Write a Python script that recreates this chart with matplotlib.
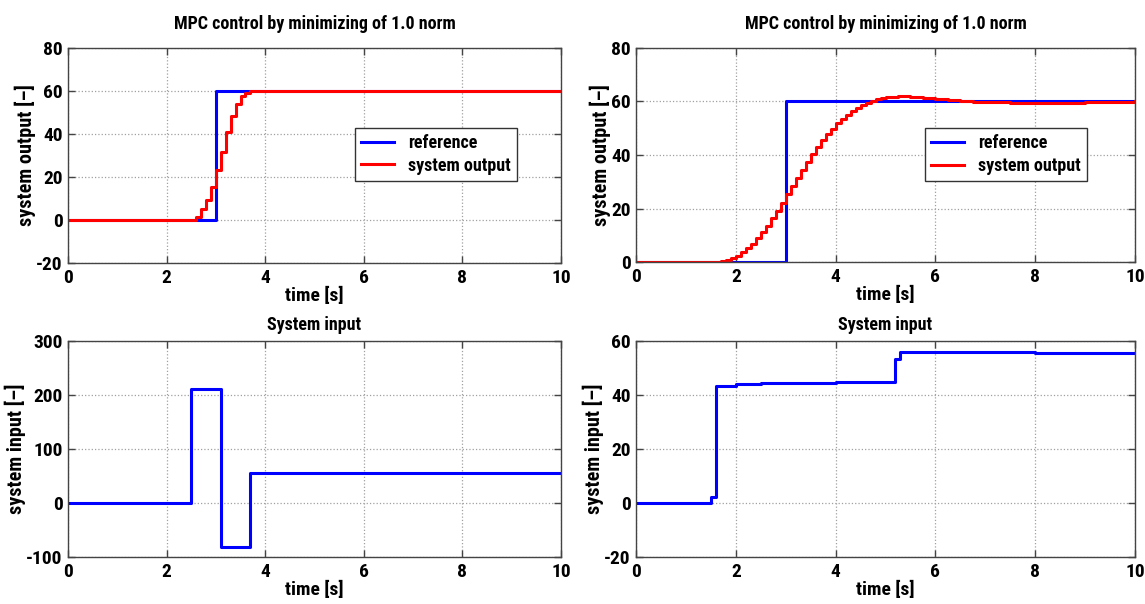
import matplotlib
matplotlib.use("Agg")
import matplotlib.pyplot as plt
from matplotlib import font_manager

# --- data -------------------------------------------------------------
# reference signal (step at t = 3 s)
ref_t = [0.0, 3.0, 10.0]
ref_y = [0.0, 60.0, 60.0]

# left case: output and input (sample time 0.1 s)
out1_t = [0.0, 2.6, 2.7, 2.8, 2.9, 3.0, 3.1, 3.2, 3.3, 3.4, 3.5, 3.6, 3.7, 10.0]
out1_y = [0.0, 1.5, 4.9, 9.2, 15.4, 23.4, 31.5, 40.8, 48.5, 53.8, 57.7, 59.2, 60.0, 60.0]
in1_t = [0.0, 2.5, 3.1, 3.7, 10.0]
in1_u = [0.0, 212.0, -81.0, 55.0, 55.0]

# right case: output and input
out2_t = [0.0, 1.7, 1.8, 1.9, 2.0, 2.1, 2.2, 2.3, 2.4, 2.5, 2.6, 2.7, 2.8, 2.9,
          3.0, 3.1, 3.2, 3.3, 3.4, 3.5, 3.6, 3.7, 3.8, 3.9, 4.0, 4.1, 4.2, 4.3,
          4.4, 4.5, 4.6, 4.7, 4.8, 4.9, 5.0, 5.25, 5.5, 5.75, 6.0, 6.25, 6.5,
          6.75, 7.0, 7.5, 8.0, 8.5, 9.0, 9.5, 10.0]
out2_y = [0.0, 0.2, 0.7, 1.4, 2.4, 3.6, 5.1, 6.9, 8.9, 11.1, 13.6, 16.3, 19.2, 22.2,
          25.3, 28.3, 31.3, 34.3, 37.3, 40.2, 43.0, 45.5, 47.8, 49.9, 51.8, 53.5, 55.0, 56.4,
          57.6, 58.6, 59.5, 60.3, 60.9, 61.4, 61.8, 62.0, 61.8, 61.4, 61.0, 60.6, 60.2,
          59.9, 59.7, 59.5, 59.5, 59.6, 59.8, 59.9, 60.0]
in2_t = [0.0, 1.5, 1.6, 1.7, 2.0, 2.5, 3.0, 4.0, 5.2, 5.3, 8.0, 10.0]
in2_u = [0.0, 2.4, 43.2, 43.5, 43.9, 44.3, 44.6, 44.7, 53.5, 56.0, 55.4, 55.4]

top_title = "MPC control by minimizing of 1.0 norm"
bottom_title = "System input"
xlab = "time [s]"
ylab_out = "system output [–]"
ylab_in = "system input [–]"
x_ticks = [0, 2, 4, 6, 8, 10]

# --- font: a narrow Helvetica-like face if one is available -----------------
installed = {(f.name, f.stretch) for f in font_manager.fontManager.ttflist}
names = {n for n, _ in installed}
stretch = "normal"
if "Liberation Sans Narrow" in names:
    family = ["Liberation Sans Narrow", "DejaVu Sans"]
elif "Roboto Condensed" in names:
    family = ["Roboto Condensed", "DejaVu Sans"]
elif any(n == "DejaVu Sans" and s == "condensed" for n, s in installed):
    family = ["DejaVu Sans"]
    stretch = "condensed"
else:
    family = ["Liberation Sans", "DejaVu Sans"]
plt.rcParams["font.family"] = family
plt.rcParams["font.stretch"] = stretch
plt.rcParams["axes.unicode_minus"] = False

W, H = 1145, 604
fig = plt.figure(figsize=(W / 100, H / 100), dpi=100)


def box(l, r, t, b):
    return [l / W, 1 - b / H, (r - l) / W, (b - t) / H]


BLUE = "#0000ff"
RED = "#ff0000"
FS = 13


def style(ax, yticks, ylim, ylabel):
    ax.set_xlim(0, 10)
    ax.set_ylim(*ylim)
    ax.set_xticks(x_ticks)
    ax.set_yticks(yticks)
    ax.grid(True, linestyle=":", color="#a0a0a0", linewidth=0.9)
    ax.tick_params(direction="in", length=5, width=1, top=True, right=True,
                   labelsize=14, pad=4, color="#444444")
    for lab in ax.get_xticklabels() + ax.get_yticklabels():
        lab.set_fontweight("bold")
    for s in ax.spines.values():
        s.set_color("#444444")
        s.set_linewidth(1.0)
    ax.set_xlabel(xlab, fontsize=14, fontweight="bold", labelpad=0)
    ax.set_ylabel(ylabel, fontsize=14.5, fontweight="bold", labelpad=0)


def legend(ax, x1, y1):
    lg = ax.legend(loc="upper right", bbox_to_anchor=(x1, y1), borderaxespad=0,
                   fancybox=False, framealpha=1, edgecolor="#333333",
                   prop={"size": FS, "weight": "bold"}, handlelength=1.8,
                   handletextpad=0.8, borderpad=0.35, labelspacing=0.25)
    lg.get_frame().set_linewidth(1.0)


ax1 = fig.add_axes(box(68, 561, 48, 263))
ax1.step(ref_t, ref_y, where="post", color=BLUE, lw=2.2, label="reference")
ax1.step(out1_t, out1_y, where="post", color=RED, lw=2.2, label="system output")
style(ax1, [-20, 0, 20, 40, 60, 80], (-20, 80), ylab_out)
ax1.set_title(top_title, fontsize=FS, fontweight="bold", pad=14)
legend(ax1, 0.911, 0.628)

ax2 = fig.add_axes(box(636, 1135, 48, 262))
ax2.step(ref_t, ref_y, where="post", color=BLUE, lw=2.2, label="reference")
ax2.step(out2_t, out2_y, where="post", color=RED, lw=2.2, label="system output")
style(ax2, [0, 20, 40, 60, 80], (0, 80), ylab_out)
ax2.set_title(top_title, fontsize=FS, fontweight="bold", pad=14)
legend(ax2, 0.904, 0.626)

ax3 = fig.add_axes(box(68, 561, 341, 557))
ax3.step(in1_t, in1_u, where="post", color=BLUE, lw=2.2)
style(ax3, [-100, 0, 100, 200, 300], (-100, 300), ylab_in)
ax3.set_title(bottom_title, fontsize=FS, fontweight="bold", pad=8)

ax4 = fig.add_axes(box(636, 1135, 341, 557))
ax4.step(in2_t, in2_u, where="post", color=BLUE, lw=2.2)
style(ax4, [-20, 0, 20, 40, 60], (-20, 60), ylab_in)
ax4.set_title(bottom_title, fontsize=FS, fontweight="bold", pad=8)

fig.savefig("out.png", dpi=100)
